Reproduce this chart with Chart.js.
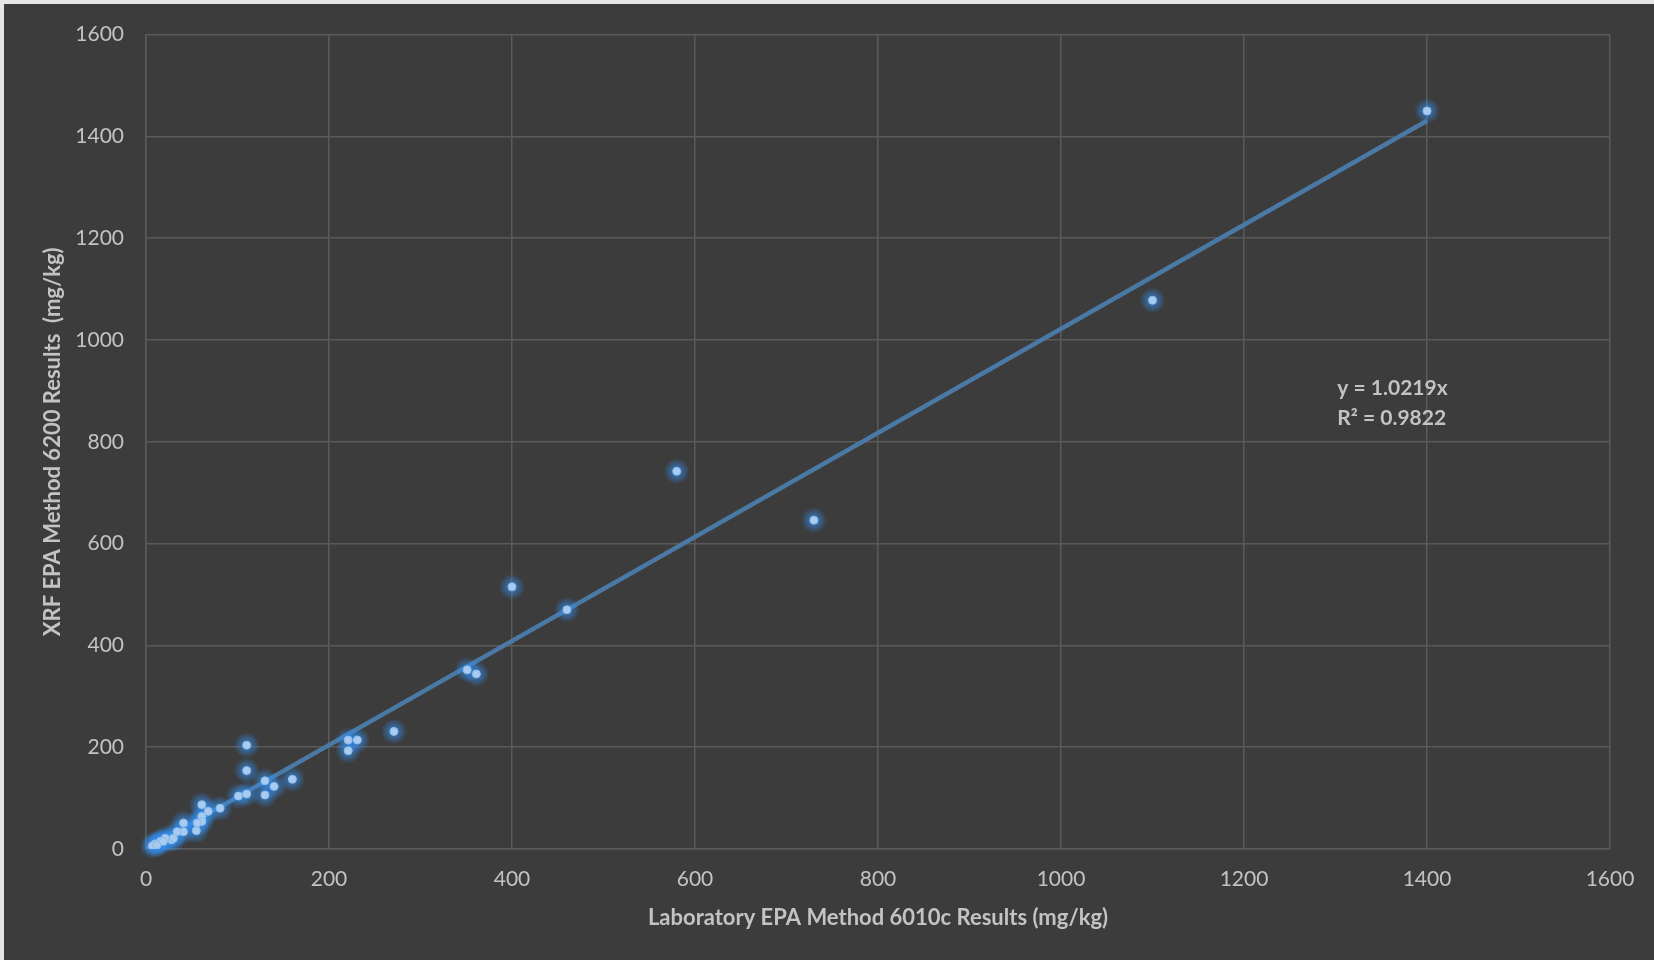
<!DOCTYPE html>
<html>
<head>
<meta charset="utf-8">
<script src="https://cdn.jsdelivr.net/npm/chart.js@4.4.1/dist/chart.umd.min.js"></script>
<style>
  html, body { margin: 0; padding: 0; background: #3b3b3b; }
  #wrap { width: 1654px; height: 960px; position: relative; }
</style>
</head>
<body>
<div id="wrap"><canvas id="chart"></canvas></div>
<script>
// Lab result (x) vs XRF result (y), mg/kg
const labValues = [1400, 1100, 580, 730, 400, 460, 351, 361, 271, 221, 231, 221,
  110, 110, 160, 130, 140, 101, 110, 130, 81, 61, 68, 61, 61, 56, 41, 55, 41, 34,
  28, 21, 16, 10, 7, 12, 19, 30];
const xrfValues = [1450, 1078, 742, 646, 515, 470, 352, 344, 231, 214, 214, 193,
  204, 154, 137, 134, 123, 104, 108, 106, 80, 87, 74, 64, 54, 51, 51, 36, 34, 34,
  18, 21, 15, 10, 6, 8, 15, 21];

// linear trendline through origin, y = 1.0219x
const trendX = [0, 1400];
const trendY = [0, 1430.66];
const trendLabel = ['y = 1.0219x', 'R\u00b2 = 0.9822'];

const xTicks = [0, 200, 400, 600, 800, 1000, 1200, 1400, 1600];
const yTicks = [0, 200, 400, 600, 800, 1000, 1200, 1400, 1600];

const textColor = '#c3c3c3';
const gridColor = '#5a5a5a';
const fontFamily = "Lato, 'Open Sans', sans-serif";

const points = labValues.map((x, i) => ({ x, y: xrfValues[i] }));
const trendPoints = trendX.map((x, i) => ({ x, y: trendY[i] }));

// background with the light frame on top/left edge
const framePlugin = {
  id: 'frame',
  beforeDraw(chart) {
    const ctx = chart.ctx;
    ctx.save();
    ctx.fillStyle = '#e6e6e6';
    ctx.fillRect(0, 0, chart.width, chart.height);
    ctx.fillStyle = '#3c3c3c';
    ctx.fillRect(4, 4, chart.width - 4, chart.height - 4);
    ctx.restore();
  }
};

// blue glow under each marker, drawn after the trendline
const glowPlugin = {
  id: 'glow',
  afterDatasetDraw(chart, args) {
    if (args.index !== 1) return;
    const ctx = chart.ctx;
    const meta = chart.getDatasetMeta(0);
    ctx.save();
    meta.data.forEach(pt => {
      const g = ctx.createRadialGradient(pt.x, pt.y, 0, pt.x, pt.y, 13);
      g.addColorStop(0, 'rgba(50, 145, 245, 0.9)');
      g.addColorStop(0.4, 'rgba(50, 145, 245, 0.5)');
      g.addColorStop(1, 'rgba(50, 145, 245, 0)');
      ctx.fillStyle = g;
      ctx.beginPath();
      ctx.arc(pt.x, pt.y, 13, 0, Math.PI * 2);
      ctx.fill();
    });
    ctx.restore();
  }
};

// equation label
const equationPlugin = {
  id: 'equation',
  afterDatasetsDraw(chart) {
    const ctx = chart.ctx;
    const xs = chart.scales.x, ys = chart.scales.y;
    const x0 = xs.getPixelForValue(1302);
    ctx.save();
    ctx.fillStyle = textColor;
    ctx.font = 'bold 21px ' + fontFamily;
    ctx.textBaseline = 'middle';
    ctx.textAlign = 'left';
    ctx.fillText(trendLabel[0], x0, ys.getPixelForValue(905));
    ctx.fillText(trendLabel[1], x0, ys.getPixelForValue(847));
    ctx.restore();
  }
};

new Chart(document.getElementById('chart'), {
  type: 'scatter',
  data: {
    datasets: [
      {
        label: 'XRF',
        data: points,
        pointStyle: 'circle',
        pointRadius: 4,
        pointBackgroundColor: '#a8cbef',
        pointBorderColor: '#8dbbea',
        pointBorderWidth: 1,
        order: 1
      },
      {
        label: 'Linear',
        type: 'line',
        data: trendPoints,
        borderColor: '#4b79a5',
        borderWidth: 4.5,
        pointRadius: 0,
        fill: false,
        order: 2
      }
    ]
  },
  options: {
    responsive: true,
    maintainAspectRatio: false,
    animation: false,
    layout: { padding: { left: 0, top: 34, right: 44, bottom: 0 } },
    plugins: {
      legend: { display: false },
      tooltip: { enabled: false }
    },
    scales: {
      x: {
        type: 'linear',
        min: 0,
        max: 1600,
        afterBuildTicks: s => { s.ticks = xTicks.map(v => ({ value: v })); },
        afterFit: s => { s.height = 111; },
        grid: { color: gridColor, lineWidth: 1.5, drawTicks: false },
        border: { color: gridColor, width: 1.5 },
        ticks: {
          color: textColor, padding: 18,
          font: { family: fontFamily, size: 21 },
          callback: v => String(v)
        },
        title: {
          display: true,
          text: 'Laboratory EPA Method 6010c Results (mg/kg)',
          color: textColor,
          font: { family: fontFamily, size: 22, weight: 'bold' },
          padding: { top: 0, bottom: 29 }
        }
      },
      y: {
        type: 'linear',
        min: 0,
        max: 1600,
        afterBuildTicks: s => { s.ticks = yTicks.map(v => ({ value: v })); },
        afterFit: s => { s.width = 146; },
        grid: { color: gridColor, lineWidth: 1.5, drawTicks: false },
        border: { color: gridColor, width: 1.5 },
        ticks: {
          color: textColor, padding: 22,
          font: { family: fontFamily, size: 21 },
          callback: v => String(v)
        },
        title: {
          display: true,
          text: 'XRF EPA Method 6200 Results  (mg/kg)',
          color: textColor,
          font: { family: fontFamily, size: 22, weight: 'bold' },
          padding: { top: 40, bottom: 0 }
        }
      }
    }
  },
  plugins: [framePlugin, glowPlugin, equationPlugin]
});
</script>
</body>
</html>
